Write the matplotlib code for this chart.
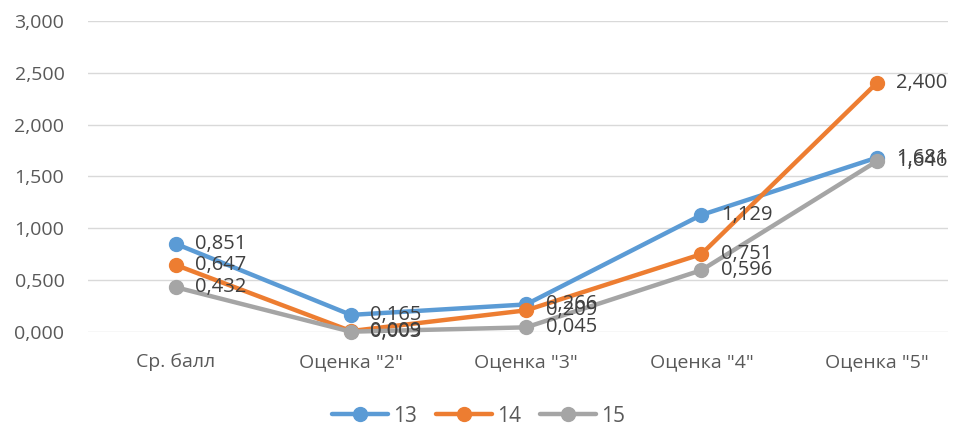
import matplotlib.pyplot as plt
from matplotlib.ticker import FuncFormatter

categories = ['Ср. балл', 'Оценка "2"', 'Оценка "3"', 'Оценка "4"', 'Оценка "5"']
series_names = ['13', '14', '15']
s13 = [0.851, 0.165, 0.266, 1.129, 1.681]
s14 = [0.647, 0.009, 0.209, 0.751, 2.400]
s15 = [0.432, 0.003, 0.045, 0.596, 1.646]
colors = ['#5b9bd5', '#ed7d31', '#a5a5a5']

plt.rcParams['font.family'] = ['Open Sans', 'DejaVu Sans']

fig = plt.figure(figsize=(9.57, 4.25), dpi=100)
# axes spans 88..948 px, categories centred at 175..876
ax = fig.add_axes([88 / 957, 93 / 425, 860 / 957, 311 / 425])

x = list(range(len(categories)))
for name, vals, c in zip(series_names, [s13, s14, s15], colors):
    ax.plot(x, vals, color=c, lw=3.2, marker='o', markersize=10,
            solid_capstyle='round', label=name, zorder=3, clip_on=False)
    for xi, v in zip(x, vals):
        ax.annotate(f'{v:.3f}'.replace('.', ','), (xi, v), xytext=(14, 0),
                    textcoords='offset points', ha='left', va='center',
                    fontsize=14.5, color='#404040', zorder=4, annotation_clip=False)

ax.set_xlim(-0.5, -0.5 + 860 / 175.25)
ax.set_ylim(0, 3.0)
ax.set_yticks([0, 0.5, 1.0, 1.5, 2.0, 2.5, 3.0])
ax.yaxis.set_major_formatter(FuncFormatter(lambda v, p: f'{v:,.3f}'.replace('.', ',')))
ax.set_xticks(x)
ax.set_xticklabels(categories)
ax.grid(axis='y', color='#d9d9d9', lw=1)
ax.set_axisbelow(True)
for s in ax.spines.values():
    s.set_visible(False)
ax.tick_params(length=0, labelsize=14, colors='#595959')
ax.tick_params(axis='x', pad=15)
ax.tick_params(axis='y', pad=17)

leg = fig.legend(loc='center', bbox_to_anchor=(0.5, 9 / 425), ncol=3, frameon=False,
                 fontsize=15, handlelength=2.7, columnspacing=0.9, handletextpad=0.25)
for t in leg.get_texts():
    t.set_color('#595959')

fig.savefig('out.png', dpi=100)
